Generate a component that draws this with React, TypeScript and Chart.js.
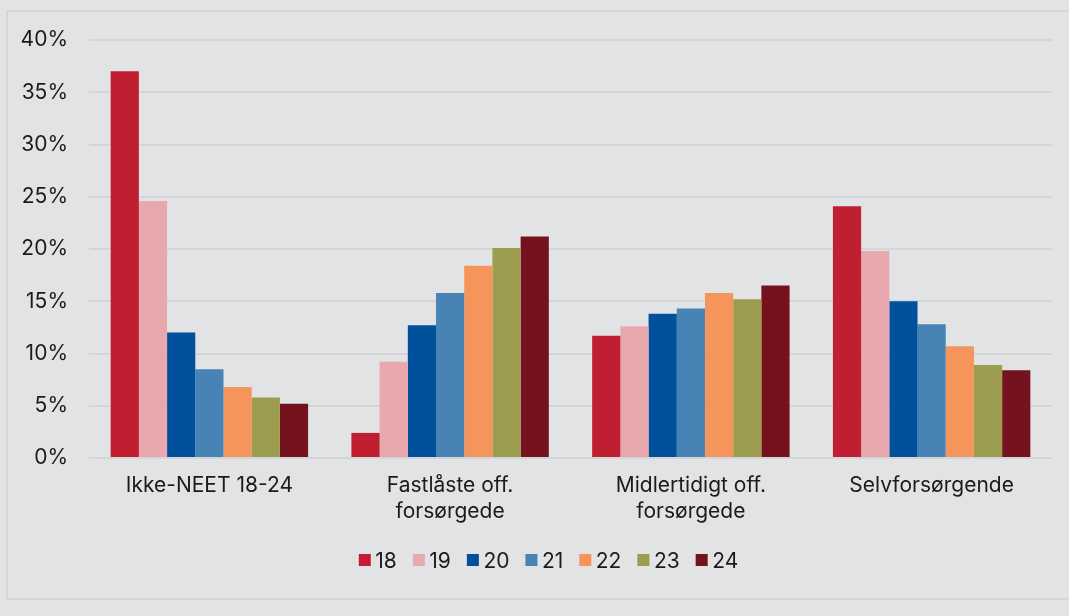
import React, { useEffect, useRef } from "react";
import { Chart, registerables } from "chart.js";

Chart.register(...registerables);

const categories: (string | string[])[] = [
  "Ikke-NEET 18-24",
  ["Fastlåste off.", "forsørgede"],
  ["Midlertidigt off.", "forsørgede"],
  "Selvforsørgende",
];

const seriesLabels = ["18", "19", "20", "21", "22", "23", "24"];
const seriesColors = ["#c01f32", "#e8a8ae", "#00509c", "#4883b5", "#f5955b", "#9c9c4e", "#74121d"];

const s18 = [37.0, 2.4, 11.7, 24.1];
const s19 = [24.6, 9.2, 12.6, 19.8];
const s20 = [12.0, 12.7, 13.8, 15.0];
const s21 = [8.5, 15.8, 14.3, 12.8];
const s22 = [6.8, 18.4, 15.8, 10.7];
const s23 = [5.8, 20.1, 15.2, 8.9];
const s24 = [5.2, 21.2, 16.5, 8.4];
const seriesValues = [s18, s19, s20, s21, s22, s23, s24];

const yTicks = [0, 5, 10, 15, 20, 25, 30, 35, 40];

const FONT = "Inter, 'Noto Sans', sans-serif";
const TEXT = "#1b1b1b";
const FS = 21;

const legendPlugin = {
  id: "customLegend",
  afterDraw(chart: any) {
    const ctx = chart.ctx;
    ctx.save();
    ctx.font = `${FS}px ${FONT}`;
    const box = 12;
    const gapText = 4.5;
    const gapItem = 16;
    const items = chart.data.datasets.map((d: any) => ({
      label: d.label,
      color: d.backgroundColor,
      w: box + gapText + ctx.measureText(d.label).width,
    }));
    const total = items.reduce((a: number, it: any) => a + it.w, 0) + gapItem * (items.length - 1);
    let x = 548.5 - total / 2;
    const base = 568;
    items.forEach((it: any) => {
      ctx.fillStyle = it.color;
      ctx.fillRect(x, 554, box, box);
      ctx.fillStyle = TEXT;
      ctx.textBaseline = "alphabetic";
      ctx.textAlign = "left";
      ctx.fillText(it.label, x + box + gapText, base);
      x += it.w + gapItem;
    });
    ctx.restore();
  },
};

export default function App() {
  const ref = useRef<HTMLCanvasElement | null>(null);
  useEffect(() => {
    if (!ref.current) return;
    const chart = new Chart(ref.current, {
      type: "bar",
      data: {
        labels: categories,
        datasets: seriesLabels.map((l, i) => ({
          label: l,
          data: seriesValues[i],
          backgroundColor: seriesColors[i],
          borderWidth: 0,
          categoryPercentage: 0.82,
          barPercentage: 1.0,
        })),
      },
      options: {
        animation: false,
        responsive: false,
        maintainAspectRatio: false,
        layout: { padding: { left: 8, top: 40, right: 17, bottom: 88 } },
        plugins: {
          legend: { display: false },
          tooltip: { enabled: false },
        },
        scales: {
          x: {
            grid: { display: false, drawTicks: false },
            border: { display: false },
            ticks: {
              color: TEXT,
              font: { family: FONT, size: FS, lineHeight: 1.24 },
              padding: 15,
              maxRotation: 0,
              autoSkip: false,
            },
            afterFit(scale: any) {
              scale.height = 70;
            },
          },
          y: {
            min: 0,
            max: 40,
            afterBuildTicks(scale: any) {
              scale.ticks = yTicks.map((v) => ({ value: v }));
            },
            grid: { color: "#d4d5d7", lineWidth: 2, drawTicks: false },
            border: { display: false },
            ticks: {
              color: TEXT,
              font: { family: FONT, size: FS },
              padding: 21,
              callback: (v: any) => `${v}%`,
            },
            afterFit(scale: any) {
              scale.width = 81;
            },
          },
        },
      },
      plugins: [legendPlugin],
    });
    return () => chart.destroy();
  }, []);

  return (
    <div style={{ position: "fixed", left: 0, top: 0, width: 1069, height: 616, background: "#e2e3e5", overflow: "hidden" }}>
      <div
        style={{
          position: "absolute",
          left: 6,
          top: 10,
          width: 1120,
          height: 586,
          border: "2px solid #d6d7d9",
        }}
      />
      <canvas ref={ref} width={1069} height={616} style={{ position: "absolute", left: 0, top: 0 }} />
    </div>
  );
}
